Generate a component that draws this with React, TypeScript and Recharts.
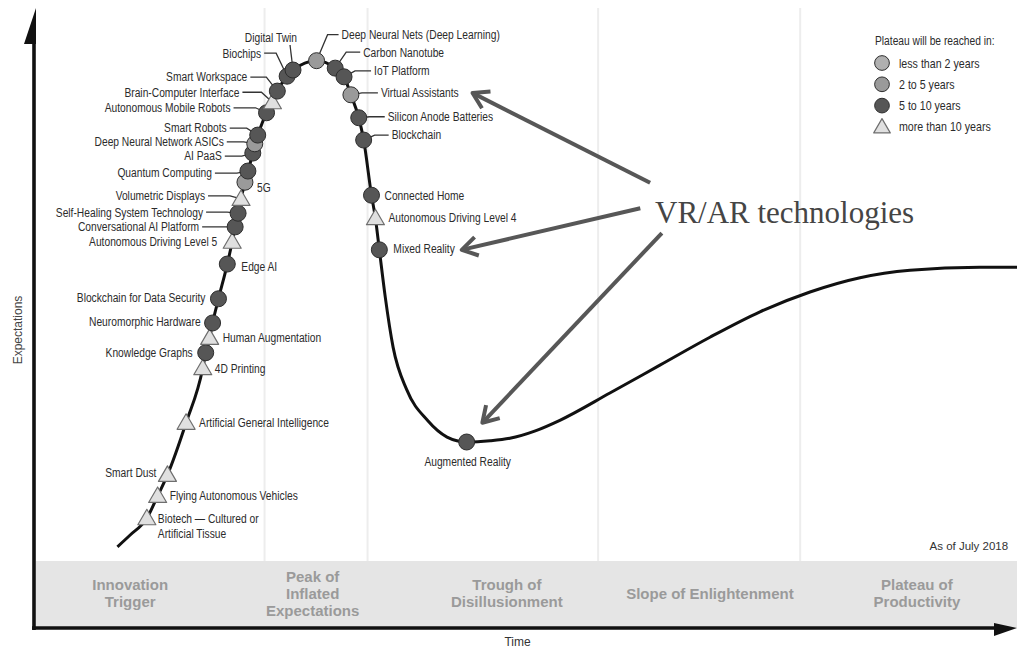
import React from 'react';
import {
  ComposedChart, Line, Scatter, XAxis, YAxis, ReferenceArea, ReferenceLine, ReferenceDot, Legend,
} from 'recharts';

// ---------- data ----------
const techNames = [
  'Biotech — Cultured or\nArtificial Tissue', 'Flying Autonomous Vehicles', 'Smart Dust',
  'Artificial General Intelligence', '4D Printing', 'Knowledge Graphs', 'Human Augmentation',
  'Neuromorphic Hardware', 'Blockchain for Data Security', 'Edge AI', 'Autonomous Driving Level 5',
  'Conversational AI Platform', 'Self-Healing System Technology', 'Volumetric Displays', '5G',
  'Quantum Computing', 'AI PaaS', 'Deep Neural Network ASICs', 'Smart Robots',
  'Autonomous Mobile Robots', 'Brain-Computer Interface', 'Smart Workspace', 'Biochips',
  'Digital Twin', 'Deep Neural Nets (Deep Learning)', 'Carbon Nanotube', 'IoT Platform',
  'Virtual Assistants', 'Silicon Anode Batteries', 'Blockchain', 'Connected Home',
  'Autonomous Driving Level 4', 'Mixed Reality', 'Augmented Reality',
];
const techTime = [
  11.3, 12.4, 13.4, 15.3, 17.0, 17.3, 17.7, 18.0, 18.6, 19.5, 20.0, 20.3, 20.6, 20.9, 21.3,
  21.6, 22.1, 22.3, 22.6, 23.5, 24.1, 24.6, 25.6, 26.2, 28.6, 30.5, 31.4, 32.1, 32.9, 33.4,
  34.2, 34.6, 35.0, 43.9,
];
const techExpect = [
  17.7, 21.3, 24.7, 33.1, 41.9, 44.4, 46.8, 49.2, 53.1, 58.7, 62.3, 64.7, 66.9, 69.2, 71.9,
  73.7, 76.6, 78.1, 79.5, 83.1, 84.8, 86.6, 89.0, 90.0, 91.5, 90.3, 88.9, 86.0, 82.3, 78.7,
  69.8, 66.1, 61.0, 30.0,
];
const techPlateau = [
  'gt10', 'gt10', 'gt10', 'gt10', 'gt10', '5to10', 'gt10', '5to10', '5to10', '5to10', 'gt10',
  '5to10', '5to10', 'gt10', '2to5', '5to10', '5to10', '2to5', '5to10', '5to10', 'gt10', '5to10',
  '5to10', '5to10', '2to5', '5to10', '5to10', '2to5', '5to10', '5to10', '5to10', 'gt10', '5to10',
  '5to10',
];
// hype curve points between/around the technologies
const curveTime = [8.3, 9.6, 35.6, 36.4, 37.8, 39.9, 41.9, 46.3, 48.3, 50.9, 53.4, 58.5, 63.6, 68.7, 73.8, 78.9, 84.0, 89.1, 96.2, 100];
const curveExpect = [13.1, 15.0, 53.4, 45.3, 38.4, 33.5, 30.8, 30.2, 30.6, 31.8, 33.5, 37.9, 42.4, 46.9, 51.0, 54.2, 56.5, 57.7, 58.2, 58.2];

const plateauKeys = ['lt2', '2to5', '5to10', 'gt10'];
const plateauLabels = ['less than 2 years', '2 to 5 years', '5 to 10 years', 'more than 10 years'];

const phaseNames = ['Innovation\nTrigger', 'Peak of\nInflated\nExpectations', 'Trough of\nDisillusionment', 'Slope of Enlightenment', 'Plateau of\nProductivity'];
const phaseLabelTime = [9.6, 28.2, 48.0, 68.7, 89.8];
const phaseBoundaries = [23.3, 33.8, 57.3, 77.9];
const phaseBandTop = 10.8;

const vrArrowTails = [[62.6, 71.8], [61.6, 67.7], [63.8, 63.7]];
const vrArrowTips = [[44.5, 86.3], [43.4, 61.0], [45.5, 33.1]];

// ---------- layout / styles ----------
const W = 1017;
const H = 650;
const SANS = "'Liberation Sans', Arial, Helvetica, sans-serif";
const SERIF = "'Liberation Serif','Times New Roman',serif";
const NARROW_SCALE = 0.82;
const LABEL_SIZE = 12.5;

const plateauFill: Record<string, string> = { lt2: '#b0b0b0', '2to5': '#9a9a9a', '5to10': '#565656', gt10: '#e0e0e0' };

// [dx, dy, anchor, leader(0 none,1 bent,2 vertical)]
const labelLayout: [number, number, string, number][] = [
  [11, 0, 'start', 0], [12, 0, 'start', 0], [-11, -2, 'end', 0], [13, 0, 'start', 0],
  [12, 0, 'start', 0], [-13, 0, 'end', 0], [13, 0, 'start', 0], [-12, -1, 'end', 0],
  [-13, -1, 'end', 0], [14, 3, 'start', 0], [-15, 0, 'end', 0], [-36, 0, 'end', 1],
  [-35, -1, 'end', 1], [-36, -3, 'end', 1], [12, 5, 'start', 0], [-36, 2, 'end', 1],
  [-31, 3, 'end', 1], [-31, -2, 'end', 1], [-31, -7, 'end', 1], [-36, -5, 'end', 1],
  [-33, -10, 'end', 1], [-30, -14, 'end', 1], [-26, -23, 'end', 1], [4, -32, 'end', 2],
  [25, -26, 'start', 1], [28, -16, 'start', 1], [30, -6, 'start', 1], [30, -2, 'start', 1],
  [29, -1, 'start', 1], [28, -5, 'start', 1], [13, 0, 'start', 0], [13, -1, 'start', 0],
  [14, -1, 'start', 0], [1, 20, 'middle', 0],
];

const techData = techNames.map((name, i) => ({
  name, t: techTime[i], e: techExpect[i], plateau: techPlateau[i], idx: i,
}));
const curveData = [
  ...curveTime.map((t, i) => ({ t, e: curveExpect[i] })),
  ...techData.map((d) => ({ t: d.t, e: d.e })),
].sort((a, b) => a.t - b.t);

function NarrowText({ x, y, anchor = 'start', size = 13, fill = '#2b2b2b', lines }: {
  x: number; y: number; anchor?: string; size?: number; fill?: string; lines: string[];
}) {
  return (
    <text transform={`translate(${x} ${y}) scale(${NARROW_SCALE} 1)`} textAnchor={anchor as any}
      fontFamily={SANS} fontSize={size} fill={fill}>
      {lines.map((ln, i) => (
        <tspan key={i} x={0} y={i * 15} dy="0.35em">{ln}</tspan>
      ))}
    </text>
  );
}

function Glyph({ cx, cy, kind, s = 1 }: { cx: number; cy: number; kind: string; s?: number }) {
  if (kind === 'gt10') {
    return (
      <polygon
        points={`${cx},${cy - 9 * s} ${cx - 9 * s},${cy + 6.5 * s} ${cx + 9 * s},${cy + 6.5 * s}`}
        fill={plateauFill.gt10} stroke="#6e6e6e" strokeWidth={1.2} strokeLinejoin="round"
      />
    );
  }
  return <circle cx={cx} cy={cy} r={8 * s} fill={plateauFill[kind]} stroke="#2e2e2e" strokeWidth={1} />;
}

const TechShape = (props: any) => {
  const { cx, cy, payload } = props;
  if (cx == null || cy == null) return <g />;
  const [dx, dy, anchor, leader] = labelLayout[payload.idx];
  const tx = cx + dx;
  const ty = cy + dy;
  const lines = String(payload.name).split('\n');
  let leaderEl = null;
  if (leader === 1) {
    const sx = anchor === 'end' ? tx + 3 : tx - 3;
    const kx = anchor === 'end' ? cx - 11 : cx + 11;
    leaderEl = <polyline points={`${sx},${ty} ${kx},${ty} ${cx},${cy}`} fill="none" stroke="#333" strokeWidth={1.3} />;
  } else if (leader === 2) {
    leaderEl = <line x1={cx - 3} y1={ty + 7} x2={cx} y2={cy} stroke="#333" strokeWidth={1.3} />;
  }
  return (
    <g>
      {leaderEl}
      <Glyph cx={cx} cy={cy} kind={payload.plateau} />
      <NarrowText x={tx} y={ty} anchor={anchor} size={LABEL_SIZE} lines={lines} />
    </g>
  );
};

const ArrowShape = (props: any) => {
  const { x1, y1, x2, y2 } = props;
  const ang = Math.atan2(y2 - y1, x2 - x1);
  const L = 18;
  const spread = 0.55;
  const a1 = ang + Math.PI - spread;
  const a2 = ang + Math.PI + spread;
  return (
    <g stroke="#575757" strokeWidth={4} fill="none">
      <line x1={x1} y1={y1} x2={x2 - 2 * Math.cos(ang)} y2={y2 - 2 * Math.sin(ang)} />
      <polyline
        points={`${x2 + L * Math.cos(a1)},${y2 + L * Math.sin(a1)} ${x2},${y2} ${x2 + L * Math.cos(a2)},${y2 + L * Math.sin(a2)}`}
        strokeLinejoin="round"
      />
    </g>
  );
};

const YAxisShape = (props: any) => {
  const { y1, y2 } = props;
  const x = Math.min(props.x1, props.x2);
  return (
    <g>
      <line x1={x - 2} y1={y1 + 2} x2={x - 2} y2={y2 + 30} stroke="#111" strokeWidth={3.6} />
      <polygon points={`${x},${y2} ${x - 12},${y2 + 36} ${x},${y2 + 36}`} fill="#111" />
    </g>
  );
};

const XAxisShape = (props: any) => {
  const { x1, x2, y1 } = props;
  return (
    <g>
      <line x1={x1 - 4} y1={y1} x2={x2 - 20} y2={y1} stroke="#111" strokeWidth={3.6} />
      <polygon points={`${x2},${y1} ${x2 - 23},${y1 - 5} ${x2 - 23},${y1 + 8}`} fill="#111" />
    </g>
  );
};

const phaseLabelShape = (name: string) => (props: any) => {
  const { cx, cy } = props;
  const lines = name.split('\n');
  const lh = 17;
  const y0 = cy - ((lines.length - 1) * lh) / 2;
  return (
    <text textAnchor="middle" fontFamily={SANS} fontWeight="bold" fontSize={15} fill="#9a9a9a">
      {lines.map((ln, i) => (
        <tspan key={i} x={cx} y={y0 + i * lh} dy="0.35em">{ln}</tspan>
      ))}
    </text>
  );
};

const LegendBox = () => (
  <svg width={155} height={112}>
    <NarrowText x={13} y={13} size={12.5} lines={['Plateau will be reached in:']} />
    {plateauKeys.map((k, i) => (
      <g key={k}>
        <Glyph cx={20} cy={35 + i * 21.3} kind={k} s={0.92} />
        <NarrowText x={37} y={35 + i * 21.3} size={13} lines={[plateauLabels[i]]} />
      </g>
    ))}
  </svg>
);

export default function App() {
  return (
    <div style={{ position: 'absolute', left: 0, top: 0, width: W, height: H, background: '#fff' }}>
      <ComposedChart width={W} height={H} margin={{ top: 8, right: 0, bottom: 0, left: 0 }}>
        <XAxis
          type="number" dataKey="t" domain={[0, 100]} height={22} tick={false} axisLine={false} tickLine={false}
          label={{
            content: (p: any) => {
              const vb = p.viewBox;
              return (
                <text x={vb.x + vb.width / 2 - 9} y={vb.y + 14} textAnchor="middle" dominantBaseline="central"
                  fontFamily={SANS} fontSize={12} fill="#333">Time</text>
              );
            },
          }}
        />
        <YAxis
          type="number" dataKey="e" domain={[0, 100]} width={36} tick={false} axisLine={false} tickLine={false}
          label={{
            content: (p: any) => {
              const vb = p.viewBox;
              const x = vb.x + 18;
              const y = vb.y + 322;
              return (
                <text x={x} y={y} transform={`rotate(-90 ${x} ${y})`} textAnchor="middle" dominantBaseline="central"
                  fontFamily={SANS} fontSize={12} fill="#444">Expectations</text>
              );
            },
          }}
        />
        {phaseBoundaries.map((b) => (
          <ReferenceLine key={b} segment={[{ x: b, y: phaseBandTop }, { x: b, y: 100 }]} stroke="#ededed" strokeWidth={2} />
        ))}
        <ReferenceArea x1={0} x2={100} y1={0} y2={phaseBandTop} fill="#e5e5e5" fillOpacity={1} stroke="none" />
        {phaseNames.map((n, i) => (
          <ReferenceDot key={n} x={phaseLabelTime[i]} y={5.6} r={0} shape={phaseLabelShape(n)} />
        ))}
        <ReferenceDot x={99.1} y={13.2} r={0}
          shape={(p: any) => (
            <text x={p.cx} y={p.cy} dy="0.35em" textAnchor="end" fontFamily={SANS} fontSize={11.5} fill="#333">As of July 2018</text>
          )}
        />
        <ReferenceDot x={63.1} y={67.1} r={0}
          shape={(p: any) => (
            <text x={p.cx} y={p.cy} dy="0.35em" textAnchor="start" fontFamily={SERIF} fontSize={31} fill="#454545">VR/AR technologies</text>
          )}
        />
        {vrArrowTails.map((tail, i) => (
          <ReferenceLine key={`arr${i}`} segment={[{ x: tail[0], y: tail[1] }, { x: vrArrowTips[i][0], y: vrArrowTips[i][1] }]} shape={ArrowShape} />
        ))}
        <ReferenceLine segment={[{ x: 0, y: 0 }, { x: 0, y: 100 }]} shape={YAxisShape} />
        <ReferenceLine segment={[{ x: 0, y: 0 }, { x: 100, y: 0 }]} shape={XAxisShape} />
        <Line data={curveData} type="monotone" dataKey="e" stroke="#111" strokeWidth={3} dot={false} isAnimationActive={false} />
        <Scatter data={techData} dataKey="e" shape={TechShape} isAnimationActive={false} />
        <Legend layout="vertical" align="center" verticalAlign="middle" content={() => <LegendBox />}
          wrapperStyle={{ top: 28, left: 862, width: 155, height: 112 }} />
      </ComposedChart>
    </div>
  );
}
